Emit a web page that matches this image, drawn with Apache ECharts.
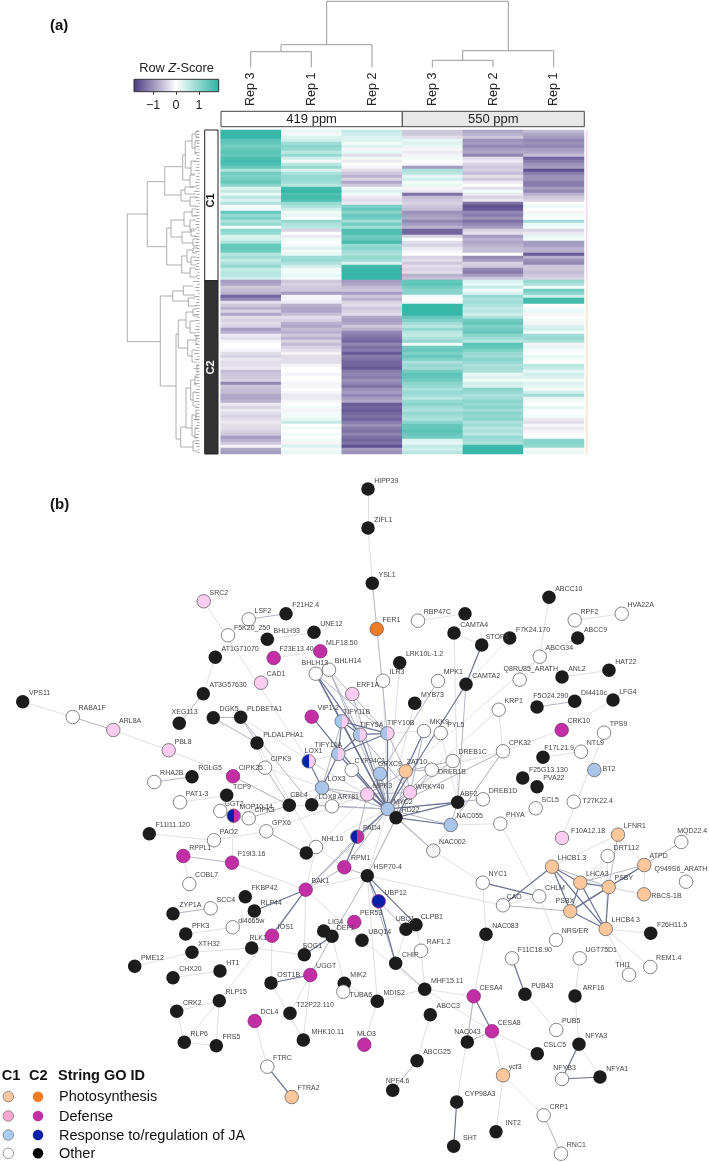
<!DOCTYPE html>
<html><head><meta charset="utf-8">
<style>html,body{margin:0;padding:0;background:#fff}#c{width:709px;height:1162px;filter:blur(.3px)}</style>
<script src="https://cdn.jsdelivr.net/npm/echarts@6/dist/echarts.min.js"></script>
</head><body><div id="c"></div>
<script>
const columnLabels=['Rep 3','Rep 1','Rep 2','Rep 3','Rep 2','Rep 1'];
const rep419_3=[1.7,1.7,1.7,1.4,1.3,1.2,1.3,1.4,1.3,1.5,
1.6,1.5,1.3,.7,1.2,1.1,1.2,1.3,1.0,.3,
.5,.2,.6,.3,.7,.1,.1,1.3,.9,1.1,
.7,.9,.1,1.0,.9,.3,.4,.7,1.3,1.3,
1.2,.6,.8,.5,.7,.9,.5,.6,.6,.4,
-.9,-.8,-.5,-.6,-.7,-1.4,-1.1,-.3,-.5,-.7,
-.4,-.8,-.3,-.4,-.3,-.4,-.9,-.7,-.2,-.3,
-.1,0,.0,-.1,-.3,-.4,-.2,-.3,-.3,-.2,
-.6,-.5,-.5,-.4,-1.1,-.5,-.6,-.6,-.8,-.8,
-.7,-.2,-.4,-.2,-.3,-.4,-.3,-.2,-.3,-.3,
-.4,-.5,-.9,-.7,-.5,-.1,-.8,-.9];
const rep419_1=[.2,.1,.3,.4,.8,1.0,.9,.6,.9,.4,
.1,.6,.9,.3,.7,.9,.9,.8,.6,1.6,
1.7,1.5,1.6,1.5,.9,.7,.4,.1,.2,0,
.9,.7,.6,-.4,.0,-.2,.1,.0,.1,.3,
.1,.2,.8,.9,.7,.4,.1,.1,.2,.1,
-.5,-.4,-.5,-.5,-.9,-.1,-.1,-.2,-.7,-.8,
-.8,-.6,-.3,-.4,-.7,-.8,-.6,-.7,-.5,-.7,
-.4,-.6,-.4,-.3,-.1,-.3,-.3,-.3,-.1,0,
0,-.1,.0,.0,-.1,-.1,0,-.1,-.2,-.2,
-.1,0,.1,-.1,.1,.1,.2,.5,.0,.1,
0,.1,.0,.1,-.1,.3,.1,.2];
const rep419_2=[.5,.4,.3,.3,.1,.3,-.1,.2,-.3,.1,
-.2,.0,-.1,-.3,-.5,-.7,-.4,-.8,-.5,.1,
.3,.1,-.2,-.3,-.2,1.1,1.3,1.0,1.3,1.2,
.8,1.2,.8,1.5,1.5,1.2,1.3,1.6,.9,1.0,
.8,.7,.9,.8,.3,1.6,1.7,1.7,1.7,1.7,
-.9,-.8,-.6,-.5,-.9,-.5,-.7,-.4,-.3,-.5,
-.4,-.3,-.8,-.9,-.8,-.5,-.7,-1.1,-1.2,-1.3,
-1.4,-1.1,-1.3,-1.2,-1.5,-1.2,-1.3,-1.4,-1.4,-1.5,
-1.2,-1.1,-1.2,-1.0,-1.1,-1.3,-1.0,-.9,-1.1,-.9,
-.8,-1.5,-1.4,-1.5,-1.4,-1.3,-1.4,-1.2,-1.0,-1.2,
-1.3,-1.1,-1.3,-1.4,-1.3,-1.6,-.9,-1.0];
const rep550_3=[-.5,-.5,-.3,.2,.3,.2,-.1,-.2,-.1,.1,
.0,-.1,-.9,.7,.6,.2,.4,.1,.2,-.1,
-.2,-1.3,-.6,-.5,-.4,-.5,-.6,-1.0,-.9,-.8,
-1.1,-.9,-.7,-1.4,-1.4,-.4,.0,-.3,-.4,-.2,
-.1,.0,-.4,-.3,-.5,-.3,-.4,-.3,-.7,-.6,
1.3,1.4,1.2,1.0,1.0,.1,.0,.1,1.7,1.7,
1.7,1.7,1.3,1.1,.8,.6,.9,.6,.5,.7,
.9,.1,1.2,1.3,1.1,1.3,1.1,.7,.9,.8,
1.2,1.4,1.3,1.2,1.0,.9,.7,.9,.8,.6,
.9,1.0,.8,.7,.9,.8,.7,1.0,1.3,1.3,
1.4,1.3,1.2,.3,.2,.5,.4,.6];
const rep550_2=[-.8,-.7,-.5,-1.0,-.9,-1.1,-.9,-.8,-1.1,-.3,
-.2,-.4,-.5,-.4,-.6,-.3,-.5,-.2,.0,-.3,
.1,-.2,-.4,-.2,-1.3,-1.6,-1.5,-1.1,-1.2,-1.0,
-1.3,-1.1,-.9,-.4,-.3,-.9,-.7,-.8,-.7,-.6,
-.6,.0,-1.1,-.9,-.4,-.5,-1.1,-1.2,-.9,-.5,
.3,.2,.5,.1,.3,.9,.7,.8,.7,.5,
.6,.4,.7,1.2,1.3,1.1,1.2,1.3,1.0,.8,
.6,1.4,1.3,1.1,.9,.8,1.0,.9,.7,.8,
.7,.2,.3,.1,.4,.3,1.0,.9,.7,.8,
1.0,.9,1.0,.8,1.0,.9,1.0,.7,.8,.6,
.7,.6,.9,.8,.7,1.6,1.7,1.7];
const rep550_1=[-.6,-.8,-.9,-1.1,-1.0,-1.1,-.9,-.8,-.6,-1.4,
-1.2,-1.0,-.9,-1.6,-1.2,-1.0,-1.0,-1.2,-1.2,-.9,
-1.1,-.7,-.5,-.4,.0,.2,0,-.1,.1,.0,
.8,.2,.1,-.4,-.2,.2,.1,-.9,-.9,-.7,
-.7,-1.5,-.7,-1.0,-1.1,-.5,-.5,-.6,-.5,-.4,
.9,.7,.1,1.2,1.0,.4,1.6,1.6,.0,.1,
.2,-.1,.0,.1,-.1,.3,.4,.1,.8,.9,
.7,-.1,.2,.1,.0,.2,.1,.0,.6,.5,
.2,.4,.3,.1,.3,.2,.1,.4,.8,.2,
.1,.0,.2,.1,0,.1,-.2,-.3,-.1,-.2,
-.1,0,.0,1.0,1.0,.9,.1,.2];
const heatColumns=[rep419_3,rep419_1,rep419_2,rep550_3,rep550_2,rep550_1];
const colourTicks=[-1,0,1];

const treatments=[['419 ppm',221,402.3,'#ffffff'],['550 ppm',402.3,584.3,'#e8e8e8']];
const clusters=[['C1',130,280.7,'#ffffff','#111111'],['C2',280.7,454,'#333333','#ffffff']];
const columnTree=[[1.3,326.7,508.3,44.7,50.7],[44.7,281,372,51.7,67.3],[51.7,250.7,311.3,67.3,67.3],[50.7,462.7,553.7,60.3,67.3],[60.3,432.3,493,67.3,67.3]];
const rowTree=[[127.3,214,341.7,147.3,160.3],[147.3,181.7,246.7,164.7,166.7],[164.7,166.7,195,182.7,181],[182.7,155,180,185.3,190],[185.3,141,168,192,191],[192,134,148,196,195],[196,131,137,199,199],[195,142,154,198,197],[191,161,174,196,195],[190,175,187,195,197],[181,190,201,185,190],[185,187,194,194,196],[190,197,206,197,196],[166.7,228,265,171,181.7],[171,220,237,184,182],[184,212,226,192,190],[192,209,216,197,197],[190,220,231,196,195],[182,232,243,191,193],[191,229,236,197,196],[193,239,246,198,197],[181.7,256,273,187,190],[187,250,262,193,191],[193,248,253,198,197],[191,257,265,196,197],[190,268,277,196,197],
[160.3,296,386,172.7,176],[172.7,291,301,183.3,188.3],[183.3,286,295,193,195],[188.3,298,306,195,196],[176,334,439,178.3,180.7],[178.3,320,348,186,187.7],[186,312,328,193,190],[193,309,316,197,198],[190,321,333,195,196],[187.7,340,356,196,192],[196,336,344,199,198],[192,350,362,196,197],[197,365,372,199,199],[180.7,427,447,186,193],[186,388,428,190.7,192],[190.7,380,400,195,193],[195,376,385,198,197],[193,392,406,196,197],[192,415,436,196,195],[196,410,420,198,199],[195,428,438,198,197],[193,441,451,197,198]];
const rowLeafStart=[196,197,196,195,197,196,198,195,197,196,194,197,196,195,198,196,197,195,196,197,
194,197,195,196,198,195,197,196,194,197,196,195,197,198,196,194,197,195,196,197,
195,198,196,194,197,196,195,198,196,197,193,197,195,196,198,194,197,196,195,197,
196,194,197,195,198,196,195,197,194,196,198,195,197,196,194,197,195,198,196,194,
197,196,195,197,194,198,196,195,197,196,194,197,195,198,196,195,194,197,196,195,
198,196,194,197,195,196,198,197];

const networkNodes=[
['HIPP39',368,489,'K'],['ZIFL1',368,528,'K'],['YSL1',372.3,583.3,'K'],['FER1',376.7,629,'F'],
['VPS11',22.7,701.7,'K'],['RABA1F',72.7,717,'O'],['ARL8A',113.3,730,'d'],['PBL8',168.7,750.3,'d'],['SRC2',203.7,601.3,'d'],
['LSF2',248.7,619.3,'O'],['F21H2.4',286,613.7,'K'],['F5K20_250',228,635.3,'O'],['BHLH93',267.3,639.3,'K'],['UNE12',314,632.3,'K'],
['MLF18.50',320.3,651.3,'D'],['F23E13.40',273.7,658,'D'],['AT1G71070',215.3,657.3,'K'],['BHLH13',315.7,673.7,'O'],['BHLH14',329,669.7,'O'],
['CAD1',261,682.7,'d'],['AT3G57630',203.3,693.7,'K'],['XEG113',179.3,723.3,'K'],['DGK5',213.3,717.7,'K'],['PLDBETA1',240.7,717.3,'K'],
['PLDALPHA1',257,743,'K'],['VIP1-2',311.7,716.7,'D'],['RHA2B',154.3,782,'O'],['RGLG5',192,776.7,'K'],['CIPK25',233,776.3,'D'],
['CIPK9',265,767.7,'O'],['LOX1',308.7,761.3,'Jd'],['TIFY10A',338.3,754,'jd'],['LOX3',322,787.7,'j'],['PAT1-3',180,802.3,'O'],
['TCP9',226.7,795.3,'K'],['GGT2',220.3,811,'O'],['MOP10.14',233.7,815.7,'JD'],['CIPK3',248.7,818.3,'O'],['CBL4',289.3,805.3,'K'],
['LOX8',311.7,804.7,'K'],['AR781',332,806.3,'O'],['GPX6',266.3,831.3,'O'],['F11I11.120',149.3,833.7,'K'],['PAO2',214,840.3,'O'],
['NHL10',316,847,'O'],['node1',306.3,853,'K'],['RPPL1',183.3,856,'D'],['F19I3.16',232,862.7,'D'],
['COBL7',189.3,884,'O'],['BAK1',305.7,889.7,'D'],['FKBP42',245.3,896.7,'K'],['RLP44',254.3,911,'K'],['ZYP1A',173,913.7,'K'],['SCC4',210.7,908.3,'O'],
['PFK3',185.7,934,'K'],['dl4665w',232.7,927.3,'O'],['IOS1',272,935.7,'D'],['RLK1',251.7,948,'K'],['XTH32',192,952.3,'K'],['PME12',134.7,966.3,'K'],
['LIG4',323.7,931,'K'],['DEF1',332,936.3,'K'],['SOG1',304.3,954.7,'K'],['HT1',220,971,'K'],['CHX20',173,977.7,'K'],['OST1B',271,983,'K'],['UGGT',310.3,975,'D'],
['PER53',354.3,922,'D'],['T22P22.110',290,1013.3,'K'],['RLP15',219.3,1000.7,'K'],['CRK2',176.7,1011.3,'K'],['DCL4',254.7,1021,'D'],['RLP6',184.3,1042.3,'K'],
['FRS5',216.3,1045.7,'K'],['MHK10.11',303.3,1040,'K'],['FTRC',267.3,1066.7,'O'],['FTRA2',291.7,1097,'P'],['MIK2',344.3,983.3,'K'],['TUBA6',343.3,991.7,'O'],
['ABCC10',549,597.3,'K'],['HVA22A',621.7,613.7,'O'],['RPF2',574.7,620.3,'O'],['RBP47C',418,620.7,'O'],['node2',465,613.7,'K'],['ABCC9',577.7,638,'K'],
['CAMTA4',454,633,'K'],['STOP1',481.7,645,'K'],['F7K24.170',509.7,638,'K'],['ABCG34',539.7,656.7,'O'],['LRK10L-1.2',399.7,662.7,'K'],['ILR3',383,680.7,'O'],
['MPK1',438,681,'O'],['CAMTA2',466,684.3,'K'],['Q8RU85_ARATH',519.7,679.7,'O'],['ANL2',562,677,'K'],['HAT22',609,670.3,'K'],['F5O24.290',537,707,'K'],
['DI4410c',574.7,701.3,'K'],['LFG4',613,700,'K'],['KRP1',498.7,709.7,'O'],['MYB73',414.7,703.3,'K'],['ERF1A',352.3,694,'d'],['TIFY10B',387.3,733.3,'jd'],
['TIFY5A',360,734.7,'jd'],['TIFY11B',341.7,721.3,'jd'],['MKK9',424,731,'O'],['PYL5',440.7,733,'O'],['CRK10',561.7,730,'D'],['TPS9',604,732.7,'O'],
['NTL9',581,751.7,'O'],['F17L21.9',543,757.3,'K'],['CPK32',503,751.3,'O'],['DREB1C',452.7,761,'O'],['GRXC9',380,773.7,'j'],['ZAT10',405.7,771.3,'P'],
['DREB1B',431.7,769.7,'O'],['CYP94C1',351.7,770,'O'],['BT2',594.3,770,'j'],['F25G13.130',522.7,778,'K'],['PVA22',537,786.7,'K'],['MPK3',367.3,794.3,'d'],
['WRKY40',410,792.3,'d'],['DREB1D',483,799.3,'O'],['ABF2',457.7,802.3,'K'],['SCL5',535.7,808.3,'O'],['T27K22.4',573.7,801.7,'O'],['MYC2',387.7,809,'j'],
['RD22',396,817.7,'K'],['NAC055',450.7,825,'j'],['PHYA',500.3,823.7,'O'],['PAD4',357.3,836.7,'JD'],['F10A12.18',562,838,'d'],['LFNR1',618,834.7,'P'],
['MQD22.4',681.3,842,'O'],['DRT112',607.7,856,'O'],['ATPD',644.3,865,'P'],['NAC002',433.3,850.7,'Q'],['RPM1',344.3,867.3,'D'],['LHCB1.3',552,866.7,'P'],
['HSP70-4',367.3,875.7,'K'],['UBP12',378.7,901.3,'J'],['NYC1',482.7,882.7,'O'],['LHCA3',580.3,882.7,'P'],['PSBY',608.7,887,'P'],['Q949S6_ARATH',686,881.7,'O'],
['CHLM',539.3,896.3,'O'],['CAO',503,905.3,'O'],['RBCS-1B',644,894.3,'P'],['PSBX',570.3,911.3,'P'],['LHCB4.3',605.7,929,'P'],['F26H11.5',650.7,933.3,'K'],
['NAC083',486,934.3,'K'],['NRS/ER',556,940,'O'],['CLPB1',416,924.7,'K'],['UBQ1',406,929.3,'K'],['UBQ14',362,940.3,'K'],['RAF1.2',421,950.7,'O'],['CHIP',395.7,963.3,'K'],
['F11C18.90',512,958.3,'O'],['UGT75D1',579.7,958.3,'O'],['THI1',629,974.7,'O'],['REM1.4',650.3,967,'O'],['MHF15.11',424.7,989.3,'K'],['MDIS2',377.3,1001.3,'K'],
['CESA4',473.7,996.3,'D'],['PUB43',525,994.3,'K'],['ARF16',575,996,'K'],['ABCC3',430.3,1014.7,'K'],['PUB5',556.3,1030,'O'],['CESA8',492,1031.3,'D'],
['NAC043',467.3,1042,'K'],['NFYA3',579,1044.3,'K'],['MLO3',364.3,1044.7,'D'],['CSLC5',537.3,1053.7,'K'],['ABCG25',417,1060.7,'K'],['NFYB3',562,1079,'O'],
['ycf3',503,1075.3,'P'],['NFYA1',600,1077,'K'],['NPF4.6',392.7,1090.3,'K'],['CYP98A3',456.7,1102,'K'],['CRP1',543.7,1115.3,'O'],['INT2',496,1131.7,'K'],
['SHT',453.7,1146.3,'K'],['RNC1',561,1153.7,'O']];
const hiddenLabels=['node1','node2'];
const labelOffsets={'BHLH13':[-13.7,-10],'F5K20_250':[6.3,-6.7],'XEG113':[-7.7,-11.3],'LOX1':[-3.7,-10.3],'TIFY10A':[-23.3,-8.7],'CBL4':[1,-10],'LOX8':[6.7,-7.7],'AR781':[6,-9],'GGT2':[4.7,-6.7],'NHL10':[6,-8],'RPPL1':[6.3,-7.3],'RLK1':[-2.3,-10],'dl4665w':[6,-6.3],'LIG4':[4.3,-9.3],'DEF1':[4.7,-8.3],'SOG1':[-1.7,-9],'MHK10.11':[8.3,-8.3],'STOP1':[4,-8.3],'ILR3':[7,-8.3],'Q8RU85_ARATH':[-15.7,-10],'F5O24.290':[-3.7,-10.7],'PYL5':[7,-8],'F17L21.9':[1.3,-9],'ERF1A':[4.7,-8.3],'TIFY10B':[0,-10],'TIFY5A':[0,-9],'TIFY11B':[1.7,-9],'GRXC9':[-1.7,-9.3],'ZAT10':[1.3,-8.7],'DREB1B':[6.7,2.7],'CYP94C1':[3.3,-8.7],'BT2':[8.7,-1],'WRKY40':[6,-5],'ABF2':[2.3,-8.7],'MYC2':[6,-6.7],'RD22':[5.7,-7.7],'T27K22.4':[9.3,-.3],'F10A12.18':[9.3,-6.3],'MQD22.4':[-3.7,-11],'DRT112':[6.3,-7.3],'ATPD':[5.7,-9],'RPM1':[7,-9],'Q949S6_ARATH':[-31,-12],'CAO':[4,-8],'RBCS-1B':[7.7,2.3],'PSBX':[-14.3,-9.7],'CLPB1':[4.7,-8],'UBQ1':[-10.3,-10],'THI1':[-13.3,-9.7],'ARF16':[7.7,-7.7],'NAC043':[-13,-10],'MLO3':[-7,-10.7],'NFYB3':[-8.3,-10.7],'NPF4.6':[-7,-9.3],'CYP98A3':[8,-8.3],'INT2':[9.7,-8.3],'SHT':[9.3,-8.3],'MIK2':[6,-8],'TUBA6':[6.7,3.3],'PAD4':[6,-8.7]};

const lightLinks=[['VPS11','RABA1F'],['ARL8A','PBL8'],['PBL8','CIPK25'],['SRC2','LOX1'],['BHLH93','UNE12'],['F23E13.40','MLF18.50'],['AT1G71070','AT3G57630'],['PLDALPHA1','NHL10'],['PAT1-3','TCP9'],['GGT2','MOP10.14'],['F11I11.120','PAO2'],['PAO2','GPX6'],['MOP10.14','F19I3.16'],['RPPL1','COBL7'],['F19I3.16','BAK1'],['BAK1','RLP15'],['BAK1','SOG1'],['BAK1','UBQ14'],['BAK1','HSP70-4'],['IOS1','OST1B'],['PFK3','dl4665w'],['XTH32','PME12'],['XTH32','RLK1'],['RLK1','SOG1'],['CHX20','HT1'],['UGGT','T22P22.110'],['OST1B','MHK10.11'],['UGGT','MHK10.11'],['RLP15','CRK2'],['RLP15','RLP6'],['RLP15','FRS5'],['CRK2','RLP6'],['RLP6','FRS5'],['DCL4','FTRC'],['LIG4','DEF1'],['DEF1','MIK2'],['MIK2','MDIS2'],['UBQ14','MHF15.11'],['MDIS2','MHF15.11'],['MDIS2','MLO3'],['MDIS2','HSP70-4'],['RAF1.2','MHF15.11'],['CLPB1','RAF1.2'],['UBQ1','CHIP'],['MHF15.11','CESA4'],['MHF15.11','CESA8'],['CESA4','CYP98A3'],['ABCC3','ABCG25'],['CESA8','CSLC5'],['CESA8','ycf3'],['ycf3','CRP1'],['ycf3','INT2'],['NAC083','NYC1'],['NAC083','CESA4'],['HSP70-4','CAO'],['CAO','CHLM'],['ATPD','RBCS-1B'],['RBCS-1B','PSBY'],['RBCS-1B','LHCA3'],['LFNR1','LHCB1.3'],['LFNR1','ATPD'],['DRT112','LHCA3'],['DRT112','LHCB4.3'],['DRT112','PSBX'],['LHCB4.3','F26H11.5'],['LHCB4.3','THI1'],['LHCB4.3','REM1.4'],['NRS/ER','CHLM'],['PUB43','PUB5'],['UGT75D1','ARF16'],['ARF16','NFYA3'],['NFYA3','NFYA1'],['PHYA','CHLM'],['PHYA','SCL5'],['PHYA','NAC055'],['TPS9','F10A12.18'],['CRK10','LFG4'],['CRK10','CPK32'],['ANL2','HAT22'],['F17L21.9','NTL9'],['RPF2','HVA22A'],['ABCC10','ABCG34'],['ABCC9','ABCG34'],['KRP1','CPK32'],['CPK32','DREB1B'],['RBP47C','node2'],['CAMTA4','STOP1'],['CAMTA4','ABF2'],['F7K24.170','CAMTA2'],['LRK10L-1.2','MYC2'],['MYB73','MYC2'],['ILR3','MYC2'],['HIPP39','ZIFL1'],['ZIFL1','YSL1'],['ABF2','DREB1D'],['PYL5','ABF2'],['LOX1','TIFY10A'],['ERF1A','TIFY5A'],['MPK3','GRXC9'],['HSP70-4','MYC2'],['NHL10','MYC2'],['NHL10','RPM1'],['NHL10','BAK1'],['AR781','MPK3'],['LOX8','MPK3'],['CBL4','MYC2'],['GPX6','MPK3'],['MOP10.14','LOX3'],['CIPK9','MYC2'],['TIFY10B','MKK9'],['LOX1','MPK3'],['MPK3','NHL10'],['WRKY40','BAK1'],['NAC002','NYC1'],['KRP1','MYC2'],['CPK32','NAC002'],['HSP70-4','WRKY40'],['ABCG34','ZAT10'],['Q8RU85_ARATH','ABCG34'],['PLDBETA1','MYC2'],['GPX6','CIPK3'],['PLDALPHA1','CIPK9']];
const mediumLinks=[['RABA1F','ARL8A'],['CIPK25','CBL4'],['LSF2','F21H2.4'],['AT3G57630','XEG113'],['DGK5','PLDBETA1'],['DGK5','PLDALPHA1'],['PLDBETA1','PLDALPHA1'],['PLDBETA1','LOX8'],['RHA2B','RGLG5'],['CIPK3','CBL4'],['CIPK9','CBL4'],['GPX6','node1'],['RPPL1','F19I3.16'],['BAK1','RPM1'],['BAK1','MYC2'],['ZYP1A','SCC4'],['HSP70-4','DEF1'],['UGGT','DEF1'],['UBP12','UBQ1'],['HSP70-4','CHIP'],['CHIP','MHF15.11'],['CESA4','NAC043'],['NAC043','CESA8'],['ABCG25','NPF4.6'],['CRP1','RNC1'],['CAO','PSBX'],['LHCB1.3','PSBY'],['ATPD','PSBY'],['ATPD','LHCA3'],['ATPD','MQD22.4'],['LFNR1','PSBY'],['F5O24.290','DI4410c'],['CPK32','MYC2'],['CAMTA2','ABF2'],['MPK1','MPK3'],['NAC055','CPK32'],['MKK9','WRKY40'],['YSL1','TIFY10B'],['LOX3','MYC2'],['LOX3','TIFY11B'],['LOX3','LOX8'],['BHLH13','TIFY10B'],['BHLH14','TIFY10B'],['BHLH14','MYC2'],['BHLH14','TIFY5A'],['ERF1A','MYC2'],['CYP94C1','MYC2'],['ZAT10','RD22'],['ZAT10','WRKY40'],['ZAT10','DREB1B'],['ZAT10','DREB1C'],['WRKY40','MYC2'],['MPK3','WRKY40'],['MPK3','ZAT10'],['MPK3','LOX3'],['MPK3','PAD4'],['DREB1B','MYC2'],['DREB1B','RD22'],['DREB1C','MYC2'],['NAC055','MYC2'],['NAC002','MYC2'],['NAC002','RD22'],['PAD4','BAK1'],['RPM1','HSP70-4'],['RPM1','MYC2'],['HSP70-4','RD22'],['AR781','MYC2'],['LOX8','MYC2'],['TIFY10B','ZAT10'],['TIFY5A','WRKY40'],['GRXC9','MYC2'],['GRXC9','RD22'],['NAC055','ABF2'],['DREB1D','MYC2']];
const strongLinks=[['BAK1','RLP44'],['BAK1','IOS1'],['OST1B','UGGT'],['FTRC','FTRA2'],['SOG1','DEF1'],['HSP70-4','UBP12'],['HSP70-4','CLPB1'],['UBP12','CHIP'],['CESA4','CESA8'],['CYP98A3','SHT'],['NYC1','CHLM'],['CAO','LHCB1.3'],['PSBX','LHCB1.3'],['LHCB1.3','LHCA3'],['LHCB1.3','LHCB4.3'],['LHCA3','PSBX'],['LHCA3','LHCB4.3'],['LHCA3','PSBY'],['PSBX','PSBY'],['PSBY','LHCB4.3'],['PSBX','LHCB4.3'],['PSBX','ATPD'],['F11C18.90','PUB43'],['NFYA3','NFYB3'],['NFYB3','NFYA1'],['STOP1','CAMTA2'],['CAMTA2','MYC2'],['MKK9','MYC2'],['VIP1-2','MYC2'],['TIFY10A','TIFY11B'],['TIFY10A','TIFY5A'],['TIFY11B','TIFY5A'],['TIFY5A','TIFY10B'],['TIFY11B','TIFY10B'],['TIFY10A','TIFY10B'],['TIFY10A','MYC2'],['TIFY11B','MYC2'],['TIFY5A','MYC2'],['TIFY10B','MYC2'],['LOX1','LOX3'],['LOX3','TIFY10A'],['BHLH13','MYC2'],['BHLH13','TIFY5A'],['BHLH13','TIFY11B'],['ZAT10','MYC2'],['WRKY40','RD22'],['MPK3','MYC2'],['MPK3','RD22'],['ABF2','MYC2'],['ABF2','RD22'],['NAC055','RD22'],['MYC2','RD22'],['PAD4','MYC2'],['PAD4','RPM1']];

const legendGroups=['Photosynthesis','Defense','Response to/regulation of JA','Other'];
const legendC1=['#fcc79b','#f9a6d2','#a9cdf6','#ffffff'];
const legendC2=['#f57a24','#c22fa5','#0a1fa8','#000000'];

const annotations=[
 ['(a)',50,26,15,'bold',0],['(b)',50,505,15,'bold',0],
 ['C1',1.7,1076,14.5,'bold',0],['C2',29,1076,14.5,'bold',0],['String GO ID',58,1076,14.5,'bold',0],
 ['Photosynthesis',59,1097.3,14.5,'normal',0],['Defense',59,1116.7,14.5,'normal',0],
 ['Response to/regulation of JA',59,1135.7,14.5,'normal',0],['Other',59,1154,14.5,'normal',0]];

const FONT='"Liberation Sans",Arial,sans-serif';
const PURPLE='#4b3a82',TEAL='#2bb3a3';
const heatData=[];
heatColumns.forEach((col,c)=>col.forEach((v,r)=>heatData.push([c,r,v])));
const rowIndex=heatColumns[0].map((_,i)=>i);

function half(a,b){return new echarts.graphic.LinearGradient(0,0,1,0,[{offset:0,color:a},{offset:.5,color:a},{offset:.5,color:b},{offset:1,color:b}]);}
const fills={K:'#1c1c1c',O:'#ffffff',Q:'#f4f4f4',d:'#fccdf0',D:'#c22fa5',j:'#a9c5ea',J:'#0a1fa8',P:'#fcc79b',F:'#f57a24',
 jd:half('#a9c5ea','#fccdf0'),Jd:half('#0a1fa8','#fccdf0'),JD:half('#0a1fa8','#c22fa5')};
const R=13.5;
const indexOf={};networkNodes.forEach((n,i)=>indexOf[n[0]]=i);
const graphNodes=networkNodes.map(n=>{
 const off=labelOffsets[n[0]]||[6.2,-8.3];
 const dark=n[3]==='K'||n[3]==='D'||n[3]==='J';
 return {id:String(indexOf[n[0]]),name:n[0],value:[n[1],n[2]],symbolSize:R,
  itemStyle:{color:fills[n[3]],borderColor:n[3]==='K'?'#1c1c1c':(dark?'#8a2a7c':'#666666'),borderWidth:n[3]==='K'?0:.8},
  label:{show:hiddenLabels.indexOf(n[0])<0,position:[R/2+off[0],R/2+off[1]],align:'left',verticalAlign:'middle',formatter:n[0],fontSize:7,color:'#444',fontFamily:FONT}};
});
function mk(list,color,w){return list.filter(l=>indexOf[l[0]]!==undefined&&indexOf[l[1]]!==undefined).map(l=>({source:String(indexOf[l[0]]),target:String(indexOf[l[1]]),lineStyle:{color:color,width:w,opacity:1,curveness:0}}));}
const graphLinks=[...mk(lightLinks,'#dcdce0',.9),...mk(mediumLinks,'#b2b4c4',1),...mk(strongLinks,'#6a7292',1.2)];

function poly(api,pts,style){return {type:'polyline',shape:{points:pts.map(p=>api.coord(p))},style:Object.assign({fill:null,stroke:'#9a9a9a',lineWidth:1},style||{}),silent:true};}

const option={
 animation:false,backgroundColor:'#fff',textStyle:{fontFamily:FONT},
 grid:[{left:0,top:0,width:709,height:1162,containLabel:false},
       {left:220.7,top:130,width:363.3,height:324},
       {left:134,top:79.3,width:84.7,height:12.4}],
 xAxis:[{gridIndex:0,type:'value',min:0,max:709,show:false},
  {gridIndex:1,type:'category',position:'top',data:columnLabels.map((t,i)=>String(i)),axisLine:{show:false},axisTick:{show:false},
   axisLabel:{rotate:-90,margin:24,fontSize:12.5,color:'#222',interval:0,fontFamily:FONT,formatter:(v,i)=>columnLabels[i]}},
  {gridIndex:2,type:'value',min:-1.83,max:1.86,splitLine:{show:false},axisLine:{show:false},
   axisTick:{show:true,length:3,customValues:colourTicks,lineStyle:{color:'#333'}},
   axisLabel:{customValues:colourTicks,fontSize:12.5,color:'#222',margin:7,formatter:v=>String(v).replace('-','\u2212'),fontFamily:FONT}}],
 yAxis:[{gridIndex:0,type:'value',min:0,max:1162,inverse:true,show:false},
  {gridIndex:1,type:'category',data:rowIndex,inverse:true,show:false},
  {gridIndex:2,type:'value',min:0,max:1,show:false}],
 visualMap:{show:false,seriesIndex:0,dimension:2,min:-1.8,max:1.8,inRange:{color:[PURPLE,'#ffffff',TEAL]}},
 series:[
  {type:'heatmap',xAxisIndex:1,yAxisIndex:1,data:heatData,progressive:0,itemStyle:{borderWidth:0},silent:true},
  {type:'custom',xAxisIndex:2,yAxisIndex:2,silent:true,data:[[-1.83,1.86]],renderItem:(p,api)=>{
    const a=api.coord([-1.83,1]),b=api.coord([1.86,0]);
    return {type:'rect',shape:{x:a[0],y:a[1],width:b[0]-a[0],height:b[1]-a[1]},style:{stroke:'#333',lineWidth:1,
     fill:new echarts.graphic.LinearGradient(0,0,1,0,[{offset:0,color:PURPLE},{offset:.496,color:'#fff'},{offset:1,color:TEAL}])}};}},
  {type:'custom',name:'column tree',xAxisIndex:0,yAxisIndex:0,silent:true,clip:false,data:columnTree,renderItem:(p,api)=>{
    const b=columnTree[p.dataIndex];
    return poly(api,[[b[1],b[3]],[b[1],b[0]],[b[2],b[0]],[b[2],b[4]]]);}},
  {type:'custom',name:'row tree',xAxisIndex:0,yAxisIndex:0,silent:true,clip:false,data:rowTree,renderItem:(p,api)=>{
    const b=rowTree[p.dataIndex];
    return poly(api,[[b[3],b[1]],[b[0],b[1]],[b[0],b[2]],[b[4],b[2]]],{lineWidth:.8});}},
  {type:'custom',name:'row leaves',xAxisIndex:0,yAxisIndex:0,silent:true,clip:false,data:rowLeafStart.map((x,i)=>[x,131.5+3*i]),renderItem:(p,api)=>{
    const x=api.value(0),y=api.value(1);
    return poly(api,[[x,y],[199.5,y]],{lineWidth:.7,stroke:'#8c8c8c'});}},
  {type:'custom',name:'treatments',xAxisIndex:0,yAxisIndex:0,silent:true,clip:false,data:treatments.map(t=>[t[1],t[2]]),renderItem:(p,api)=>{
    const t=treatments[p.dataIndex],a=api.coord([t[1],111.3]),b=api.coord([t[2],126.7]);
    return {type:'group',children:[{type:'rect',shape:{x:a[0],y:a[1],width:b[0]-a[0],height:b[1]-a[1]},style:{fill:t[3],stroke:'#444',lineWidth:1}},
     {type:'text',x:(a[0]+b[0])/2,y:(a[1]+b[1])/2,style:{text:t[0],fontSize:13,fill:'#222',align:'center',verticalAlign:'middle',fontFamily:FONT}}]};}},
  {type:'custom',name:'clusters',xAxisIndex:0,yAxisIndex:0,silent:true,clip:false,data:clusters.map(t=>[t[1],t[2]]),renderItem:(p,api)=>{
    const t=clusters[p.dataIndex],a=api.coord([204.7,t[1]]),b=api.coord([218,t[2]]);
    return {type:'group',children:[{type:'rect',shape:{x:a[0],y:a[1],width:b[0]-a[0],height:b[1]-a[1]},style:{fill:t[3],stroke:'#222',lineWidth:1}},
     {type:'text',x:(a[0]+b[0])/2,y:(a[1]+b[1])/2-(p.dataIndex?0:5),rotation:Math.PI/2,style:{text:t[0],fontSize:11,fontWeight:'bold',fill:t[4],align:'center',verticalAlign:'middle',fontFamily:FONT}}]};}},
  {type:'custom',name:'side strip',xAxisIndex:0,yAxisIndex:0,silent:true,clip:false,data:[[130,280.7],[280.7,454]],renderItem:(p,api)=>{
    const a=api.coord([586,api.value(0)]),b=api.coord([587.5,api.value(1)]);
    return {type:'rect',shape:{x:a[0],y:a[1],width:b[0]-a[0],height:b[1]-a[1]},style:{fill:p.dataIndex?'#fbe3c8':'#f5d5ee'}};}},
  {type:'custom',name:'z title',xAxisIndex:0,yAxisIndex:0,silent:true,clip:false,data:[[176.5,68.7]],renderItem:(p,api)=>{
    const c=api.coord([176.5,68.7]);
    return {type:'text',x:c[0],y:c[1],style:{text:'{n|Row }{i|Z}{n|-Score}',align:'center',verticalAlign:'middle',fill:'#222',rich:{n:{fontSize:12.8,fontFamily:FONT,fill:'#222'},i:{fontSize:12.8,fontStyle:'italic',fontFamily:FONT,fill:'#222'}}}};}},
  {type:'graph',name:'network',coordinateSystem:'cartesian2d',xAxisIndex:0,yAxisIndex:0,layout:'none',silent:true,roam:false,
   data:graphNodes,links:graphLinks,edgeSymbol:['none','none'],z:5},
  {type:'scatter',name:'legend C1',xAxisIndex:0,yAxisIndex:0,silent:true,symbolSize:10.5,z:6,
   data:legendC1.map((c,i)=>({value:[8.3,[1096.7,1116,1135,1153.3][i]],itemStyle:{color:c,borderColor:'#777',borderWidth:.8,opacity:1}}))},
  {type:'scatter',name:'legend C2',xAxisIndex:0,yAxisIndex:0,silent:true,symbolSize:10.5,z:6,
   data:legendC2.map((c,i)=>({value:[38,[1096.7,1116,1135,1153.3][i]],itemStyle:{color:c,opacity:1}}))},
  {type:'custom',name:'text',xAxisIndex:0,yAxisIndex:0,silent:true,clip:false,z:6,data:annotations.map(a=>[a[1],a[2]]),renderItem:(p,api)=>{
    const a=annotations[p.dataIndex],c=api.coord([a[1],a[2]]);
    return {type:'text',x:c[0],y:c[1],style:{text:a[0],fontSize:a[3],fontWeight:a[4],fill:'#111',align:'left',verticalAlign:'middle',fontFamily:FONT}};}}
 ]
};
const chart=echarts.init(document.getElementById('c'),null,{renderer:'canvas',width:709,height:1162});
chart.setOption(option);
</script></body></html>
